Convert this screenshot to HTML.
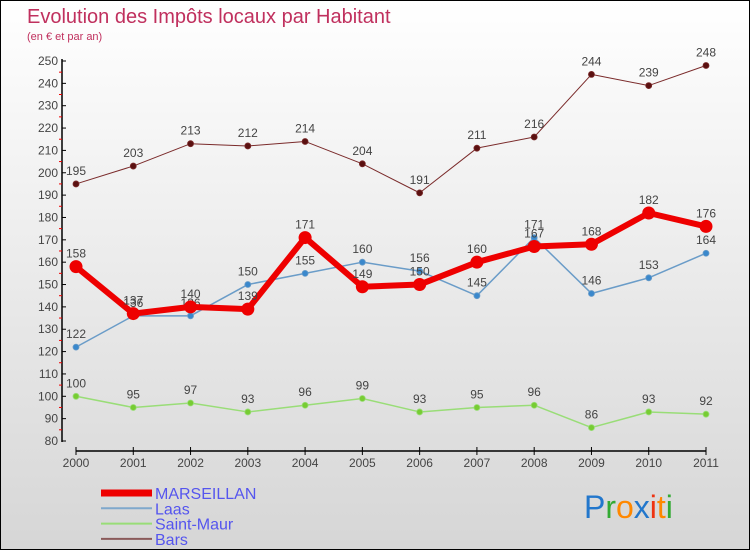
<!DOCTYPE html>
<html><head><meta charset="utf-8"><style>
body{margin:0}
#c{width:750px;height:550px;position:relative;box-sizing:border-box;border:1px solid #000;background:linear-gradient(#fff,#d6d6d6);font-family:"Liberation Sans",sans-serif;overflow:hidden}
svg{position:absolute;left:0;top:0}
</style></head><body>
<div id="c">
<svg id="s" width="750" height="550">
<text x="26" y="22" font-size="20" fill="#c0305e">Evolution des Impôts locaux par Habitant</text>
<text x="26" y="39" font-size="11" fill="#c0305e">(en € et par an)</text>
</svg>
</div>
<script>
const years=["2000","2001","2002","2003","2004","2005","2006","2007","2008","2009","2010","2011"];
const bars=[195,203,213,212,214,204,191,211,216,244,239,248];
const marseillan=[158,137,140,139,171,149,150,160,167,168,182,176];
const laas=[122,136,136,150,155,160,156,145,171,146,153,164];
const saintMaur=[100,95,97,93,96,99,93,95,96,86,93,92];
const yTicks=[80,90,100,110,120,130,140,150,160,170,180,190,200,210,220,230,240,250];
const NS="http://www.w3.org/2000/svg",s=document.getElementById('s');
const X=i=>75+i*(630/11), Y=v=>440-(v-80)*(380/170);
function mk(t,a,p){const e=document.createElementNS(NS,t);for(const k in a)e.setAttribute(k,a[k]);(p||s).appendChild(e);return e;}
const ax=mk('g',{});


mk('line',{x1:61,y1:58,x2:61,y2:441,stroke:'#000','stroke-width':1.5},ax);
mk('line',{x1:75,y1:450,x2:705,y2:450,stroke:'#000','stroke-width':1.5},ax);
yTicks.forEach(v=>{const y=Y(v);mk('line',{x1:61,y1:y,x2:65,y2:y,stroke:'#000'},ax);
 if(v<250)mk('line',{x1:58,y1:y-11.2,x2:61,y2:y-11.2,stroke:'#e00'},ax);
 const t=mk('text',{x:57,y:y+4,'text-anchor':'end','font-size':12,fill:'#444'},ax);t.textContent=v;
 
 });
years.forEach((yr,i)=>{const x=X(i);mk('line',{x1:x,y1:446,x2:x,y2:454,stroke:'#000'},ax);
 const t=mk('text',{x:x,y:466,'text-anchor':'middle','font-size':12,fill:'#444'},ax);t.textContent=yr;
 
 });
function series(name,vals,col,lw,r,dot){const g=mk('g',{});
 
 
 mk('polyline',{points:vals.map((v,i)=>X(i)+','+Y(v)).join(' '),fill:'none',stroke:col,'stroke-width':lw,'stroke-linejoin':'round'},g);
 vals.forEach((v,i)=>{const c=mk('circle',{cx:X(i),cy:Y(v),r:r,fill:dot,stroke:col,'stroke-width':r>5?0:0.8},g);
  
  
  const t=mk('text',{x:X(i),y:Y(v)-9,'text-anchor':'middle','font-size':12,fill:'#444'},g);t.textContent=v;
  
  });}
series('bars',bars,'#7a2a2a',1,3,'#5a1010');
series('saint-maur',saintMaur,'#99dd77',1.5,3,'#77cc33');
series('laas',laas,'#6a9cc8',1.5,3,'#3a88cc');
series('marseillan',marseillan,'#ee0000',6,6.5,'#ee0000');
const leg=[['MARSEILLAN','#ee0000',7],['Laas','#7fa8cc',2],['Saint-Maur','#99dd77',2],['Bars','#8a5a5a',2]];
leg.forEach((l,i)=>{const y=492+i*15.3;const g=mk('g',{});
 
 
 mk('line',{x1:100,y1:y,x2:151,y2:y,stroke:l[1],'stroke-width':l[2]},g);
 const t=mk('text',{x:154,y:y+6,'font-size':16,fill:'#5555ee'},g);t.textContent=l[0];});
const lg=mk('text',{x:583,y:517,'font-size':32});


[['P','#2277cc'],['r','#33aa33'],['o','#ff8800'],['x','#2277cc'],['i','#ee3311'],['t','#ff8800'],['i','#33aa33']].forEach(c=>{const sp=mk('tspan',{fill:c[1]},lg);sp.textContent=c[0];});
</script>
</body></html>
